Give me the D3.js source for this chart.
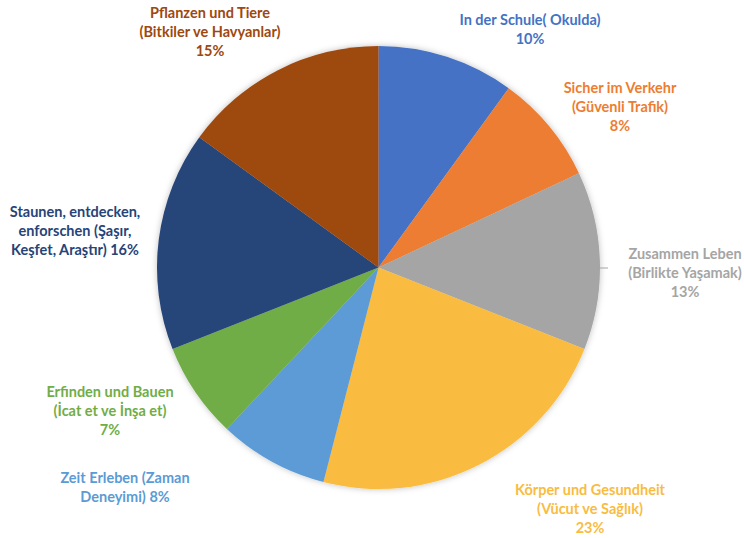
<!DOCTYPE html>
<html><head><meta charset="utf-8">
<script src="https://cdn.jsdelivr.net/npm/d3@7"></script>
<style>body{margin:0;background:#fff}text{font-family:Lato,"Open Sans",sans-serif;font-weight:700}</style>
</head><body><svg id="c" width="744" height="538"></svg>
<script>
const categories = [
  ["In der Schule( Okulda)", "10%"],
  ["Sicher im Verkehr", "(Güvenli Trafik)", "8%"],
  ["Zusammen Leben", "(Birlikte Yaşamak)", "13%"],
  ["Körper und Gesundheit", "(Vücut ve Sağlık)", "23%"],
  ["Zeit Erleben (Zaman", "Deneyimi) 8%"],
  ["Erfinden und Bauen", "(İcat et ve İnşa et)", "7%"],
  ["Staunen, entdecken,", "enforschen (Şaşır,", "Keşfet, Araştır) 16%"],
  ["Pflanzen und Tiere", "(Bitkiler ve Havyanlar)", "15%"]
];
const values = [10, 8, 13, 23, 8, 7, 16, 15];
const colors = ["#4472C4", "#ED7D31", "#A5A5A5", "#F9BC41", "#5B9BD5", "#70AD47", "#264478", "#9E480E"];
const labelPos = [[530, 20], [620, 88], [685, 254], [590, 490], [125, 478], [110, 392], [75, 212], [210, 13]];

const svg = d3.select("#c");
const cx = 378.5, cy = 267.5, r = 221.5;
const defs = svg.append("defs");
const f = defs.append("filter").attr("id", "sh").attr("x", "-10%").attr("y", "-10%").attr("width", "120%").attr("height", "120%");
f.append("feDropShadow").attr("dx", 0).attr("dy", 0).attr("stdDeviation", 3).attr("flood-color", "#000").attr("flood-opacity", 0.25);

const pie = d3.pie().sort(null).value(d => d);
const arc = d3.arc().innerRadius(0).outerRadius(r);
const g = svg.append("g").attr("transform", `translate(${cx},${cy})`).attr("filter", "url(#sh)");
g.selectAll("path").data(pie(values)).join("path")
  .attr("d", arc).attr("fill", (d, i) => colors[i]);

// leader line for Zusammen Leben
svg.append("line").attr("x1", 598).attr("y1", 268).attr("x2", 608).attr("y2", 268)
  .attr("stroke", "#A5A5A5").attr("stroke-width", 1);

categories.forEach((lines, i) => {
  const t = svg.append("text").attr("text-anchor", "middle").attr("fill", colors[i])
    .attr("font-size", 14.5);
  lines.forEach((l, j) => {
    t.append("tspan").attr("x", labelPos[i][0]).attr("y", labelPos[i][1] + j * 18.8 + 5).text(l);
  });
});
</script></body></html>
